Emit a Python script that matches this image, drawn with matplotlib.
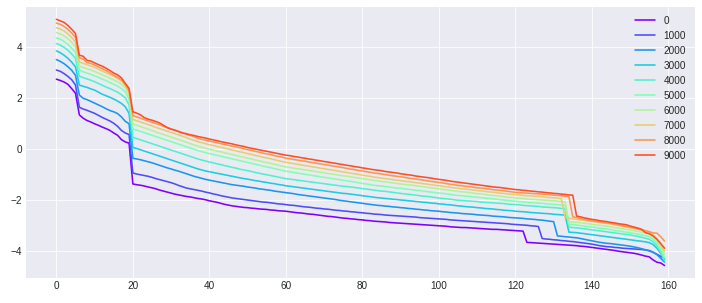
import numpy as np
import matplotlib
matplotlib.use("Agg")
import matplotlib.pyplot as plt

plt.style.use("seaborn-v0_8-darkgrid")
plt.rcParams["font.family"] = ["Liberation Sans", "DejaVu Sans"]

labels = ["0", "1000", "2000", "3000", "4000", "5000", "6000", "7000", "8000", "9000"]

s0 = [2.73, 2.68, 2.62, 2.53, 2.36, 2.18,
      1.33, 1.20, 1.11, 1.05, 0.98, 0.92, 0.85, 0.79, 0.72, 0.62, 0.53, 0.36, 0.27, 0.22,
      -1.38, -1.41, -1.43, -1.46, -1.50, -1.53, -1.57, -1.62, -1.66, -1.70,
      -1.74, -1.78, -1.81, -1.84, -1.87, -1.89, -1.92, -1.95, -1.97, -2.00,
      -2.04, -2.07, -2.10, -2.14, -2.18, -2.21, -2.24, -2.26, -2.28, -2.30,
      -2.31, -2.33, -2.34, -2.36, -2.37, -2.38, -2.40, -2.41, -2.43, -2.44,
      -2.45, -2.47, -2.49, -2.51, -2.52, -2.54, -2.56, -2.57, -2.59, -2.61,
      -2.63, -2.65, -2.66, -2.68, -2.70, -2.72, -2.73, -2.75, -2.76, -2.78,
      -2.79, -2.81, -2.82, -2.84, -2.85, -2.86, -2.87, -2.89, -2.90, -2.91,
      -2.92, -2.93, -2.94, -2.95, -2.96, -2.97, -2.98, -2.99, -3.00, -3.01,
      -3.02, -3.03, -3.04, -3.06, -3.07, -3.08, -3.09, -3.09, -3.10, -3.11,
      -3.12, -3.13, -3.14, -3.15, -3.16, -3.16, -3.17, -3.18, -3.19, -3.20,
      -3.21, -3.22, -3.23,
      -3.67, -3.68, -3.69, -3.70, -3.71, -3.72, -3.73, -3.74, -3.75, -3.76,
      -3.77, -3.78, -3.79, -3.80, -3.82, -3.83, -3.85, -3.87, -3.89, -3.91,
      -3.93, -3.95, -3.97, -3.99, -4.02, -4.04, -4.06, -4.08, -4.10, -4.13,
      -4.17, -4.21, -4.24, -4.36, -4.45, -4.48, -4.58]

s1 = [3.09, 3.04, 2.95, 2.84, 2.71, 2.50,
      1.63, 1.56, 1.51, 1.45, 1.39, 1.31, 1.23, 1.16, 1.09, 1.00, 0.88, 0.72, 0.62, 0.56,
      -0.95, -0.99, -1.02, -1.05, -1.08, -1.12, -1.17, -1.21, -1.25, -1.29,
      -1.33, -1.38, -1.44, -1.49, -1.54, -1.57, -1.60, -1.63, -1.66, -1.70,
      -1.73, -1.77, -1.80, -1.84, -1.87, -1.90, -1.93, -1.95, -1.97, -1.99,
      -2.01, -2.03, -2.05, -2.07, -2.09, -2.10, -2.12, -2.14, -2.16, -2.17,
      -2.19, -2.21, -2.22, -2.24, -2.26, -2.28, -2.29, -2.31, -2.33, -2.34,
      -2.36, -2.37, -2.39, -2.41, -2.42, -2.44, -2.45, -2.47, -2.48, -2.50,
      -2.51, -2.53, -2.54, -2.56, -2.57, -2.58, -2.60, -2.61, -2.62, -2.63,
      -2.64, -2.65, -2.66, -2.67, -2.68, -2.70, -2.71, -2.72, -2.73, -2.74,
      -2.75, -2.76, -2.77, -2.79, -2.80, -2.81, -2.82, -2.83, -2.84, -2.85,
      -2.86, -2.87, -2.88, -2.89, -2.90, -2.91, -2.92, -2.93, -2.94, -2.96,
      -2.97, -2.98, -2.99, -3.00, -3.02, -3.03, -3.05,
      -3.52, -3.54, -3.55, -3.57, -3.58, -3.60, -3.61, -3.63, -3.64, -3.66,
      -3.68, -3.70, -3.72, -3.74, -3.77, -3.80, -3.82, -3.84, -3.85, -3.87,
      -3.88, -3.90, -3.91, -3.92, -3.93, -3.94, -3.95, -3.97, -3.99, -4.06,
      -4.14, -4.22, -4.30]

s2 = [3.50, 3.43, 3.34, 3.22, 3.08, 2.88,
      2.11, 1.98, 1.93, 1.86, 1.79, 1.72, 1.65, 1.57, 1.50, 1.45, 1.38, 1.25, 1.08, 0.98,
      -0.37, -0.40, -0.43, -0.47, -0.51, -0.55, -0.60, -0.65, -0.70, -0.75,
      -0.79, -0.84, -0.88, -0.93, -0.98, -1.03, -1.08, -1.12, -1.16, -1.20,
      -1.23, -1.26, -1.29, -1.32, -1.35, -1.38, -1.41, -1.43, -1.45, -1.47,
      -1.50, -1.52, -1.54, -1.57, -1.59, -1.61, -1.63, -1.66, -1.68, -1.70,
      -1.72, -1.74, -1.76, -1.79, -1.81, -1.83, -1.85, -1.87, -1.89, -1.91,
      -1.93, -1.95, -1.97, -1.99, -2.02, -2.04, -2.06, -2.08, -2.10, -2.12,
      -2.14, -2.16, -2.18, -2.20, -2.22, -2.23, -2.25, -2.26, -2.28, -2.29,
      -2.31, -2.32, -2.34, -2.35, -2.37, -2.38, -2.40, -2.41, -2.43, -2.44,
      -2.45, -2.47, -2.48, -2.50, -2.51, -2.52, -2.54, -2.55, -2.56, -2.57,
      -2.59, -2.60, -2.61, -2.62, -2.64, -2.65, -2.66, -2.67, -2.69, -2.70,
      -2.71, -2.72, -2.73, -2.75, -2.76, -2.77, -2.79, -2.80, -2.82, -2.84,
      -2.86,
      -3.42, -3.43, -3.45, -3.46, -3.48, -3.49, -3.52, -3.55, -3.58, -3.61,
      -3.64, -3.67, -3.69, -3.71, -3.72, -3.74, -3.76, -3.78, -3.80, -3.82,
      -3.85, -3.88, -3.92, -3.96, -4.01, -4.06, -4.15, -4.30, -4.44]

s3 = [3.84, 3.77, 3.67, 3.55, 3.40, 3.21,
      2.50, 2.45, 2.41, 2.35, 2.30, 2.22, 2.14, 2.08, 2.02, 1.95, 1.87, 1.78, 1.65, 1.39,
      0.05, 0.01, -0.04, -0.09, -0.14, -0.19, -0.24, -0.29, -0.34, -0.39,
      -0.44, -0.49, -0.54, -0.59, -0.64, -0.69, -0.74, -0.79, -0.83, -0.87,
      -0.90, -0.93, -0.96, -0.99, -1.02, -1.05, -1.08, -1.11, -1.14, -1.17,
      -1.19, -1.22, -1.25, -1.27, -1.30, -1.32, -1.35, -1.37, -1.40, -1.42,
      -1.45, -1.47, -1.49, -1.51, -1.53, -1.55, -1.57, -1.59, -1.61, -1.63,
      -1.65, -1.67, -1.69, -1.71, -1.73, -1.75, -1.76, -1.78, -1.80, -1.82,
      -1.84, -1.86, -1.88, -1.90, -1.92, -1.93, -1.95, -1.96, -1.98, -1.99,
      -2.01, -2.02, -2.04, -2.05, -2.07, -2.08, -2.10, -2.11, -2.13, -2.14,
      -2.16, -2.17, -2.19, -2.20, -2.22, -2.24, -2.25, -2.27, -2.28, -2.29,
      -2.31, -2.32, -2.34, -2.35, -2.36, -2.38, -2.39, -2.41, -2.42, -2.43,
      -2.45, -2.46, -2.47, -2.48, -2.50, -2.51, -2.52, -2.53, -2.54, -2.55,
      -2.57, -2.58, -2.59, -2.60,
      -3.27, -3.28, -3.29, -3.31, -3.33, -3.35, -3.37, -3.39, -3.41, -3.43,
      -3.45, -3.47, -3.49, -3.51, -3.53, -3.55, -3.57, -3.59, -3.61, -3.63,
      -3.65, -3.68, -3.76, -3.90, -4.10, -4.34]

s4 = [4.13, 4.07, 3.98, 3.87, 3.72, 3.55,
      2.85, 2.79, 2.74, 2.69, 2.63, 2.56, 2.49, 2.42, 2.36, 2.29, 2.22, 2.12, 2.00, 1.72,
      0.45, 0.40, 0.35, 0.30, 0.25, 0.20, 0.15, 0.10, 0.05, 0.00,
      -0.05, -0.10, -0.15, -0.20, -0.25, -0.30, -0.35, -0.40, -0.44, -0.48,
      -0.52, -0.55, -0.59, -0.62, -0.66, -0.69, -0.73, -0.76, -0.80, -0.83,
      -0.86, -0.89, -0.93, -0.96, -0.99, -1.02, -1.05, -1.08, -1.11, -1.14,
      -1.17, -1.19, -1.21, -1.23, -1.25, -1.27, -1.29, -1.31, -1.33, -1.35,
      -1.37, -1.39, -1.41, -1.43, -1.45, -1.47, -1.48, -1.50, -1.52, -1.54,
      -1.56, -1.58, -1.60, -1.62, -1.64, -1.66, -1.67, -1.69, -1.71, -1.73,
      -1.75, -1.77, -1.78, -1.80, -1.82, -1.84, -1.86, -1.87, -1.89, -1.91,
      -1.93, -1.95, -1.96, -1.98, -2.00, -2.02, -2.03, -2.04, -2.05, -2.06,
      -2.07, -2.09, -2.10, -2.11, -2.12, -2.13, -2.14, -2.15, -2.17, -2.18,
      -2.19, -2.20, -2.22, -2.23, -2.24, -2.25, -2.26, -2.28, -2.29, -2.30,
      -2.31, -2.32, -2.34, -2.35,
      -3.08, -3.09, -3.10, -3.12, -3.14, -3.16, -3.18, -3.20, -3.22, -3.24,
      -3.26, -3.28, -3.30, -3.32, -3.34, -3.36, -3.38, -3.41, -3.44, -3.47,
      -3.51, -3.55, -3.65, -3.80, -4.05, -4.40]

s5 = [4.35, 4.30, 4.21, 4.10, 3.95, 3.78,
      3.09, 3.02, 2.97, 2.92, 2.86, 2.80, 2.73, 2.67, 2.60, 2.53, 2.46, 2.36, 2.24, 1.95,
      0.78, 0.73, 0.68, 0.63, 0.58, 0.53, 0.48, 0.43, 0.38, 0.33,
      0.28, 0.23, 0.18, 0.13, 0.08, 0.03, -0.02, -0.07, -0.11, -0.15,
      -0.19, -0.22, -0.26, -0.29, -0.33, -0.36, -0.40, -0.43, -0.47, -0.50,
      -0.54, -0.57, -0.61, -0.64, -0.68, -0.71, -0.74, -0.78, -0.81, -0.85,
      -0.88, -0.90, -0.93, -0.95, -0.98, -1.00, -1.02, -1.05, -1.07, -1.10,
      -1.12, -1.14, -1.17, -1.19, -1.21, -1.24, -1.26, -1.28, -1.31, -1.33,
      -1.36, -1.38, -1.40, -1.43, -1.45, -1.46, -1.48, -1.50, -1.52, -1.54,
      -1.55, -1.57, -1.59, -1.61, -1.63, -1.64, -1.66, -1.68, -1.70, -1.72,
      -1.74, -1.75, -1.77, -1.79, -1.81, -1.83, -1.84, -1.86, -1.87, -1.89,
      -1.90, -1.92, -1.93, -1.95, -1.96, -1.98, -2.00, -2.01, -2.03, -2.04,
      -2.06, -2.07, -2.08, -2.10, -2.11, -2.12, -2.13, -2.14, -2.16, -2.17,
      -2.18, -2.19, -2.21, -2.22,
      -2.96, -2.97, -2.99, -3.01, -3.03, -3.05, -3.07, -3.09, -3.11, -3.13,
      -3.15, -3.17, -3.20, -3.22, -3.25, -3.27, -3.29, -3.32, -3.35, -3.38,
      -3.41, -3.45, -3.55, -3.70, -3.95, -4.27]

s6 = [4.56, 4.51, 4.43, 4.32, 4.18, 3.99,
      3.25, 3.19, 3.14, 3.09, 3.03, 2.97, 2.90, 2.84, 2.77, 2.70, 2.63, 2.53, 2.40, 2.12,
      0.97, 0.92, 0.87, 0.82, 0.77, 0.72, 0.66, 0.61, 0.56, 0.51,
      0.46, 0.41, 0.36, 0.31, 0.26, 0.20, 0.15, 0.10, 0.06, 0.02,
      -0.02, -0.05, -0.09, -0.12, -0.16, -0.19, -0.23, -0.26, -0.30, -0.33,
      -0.37, -0.40, -0.44, -0.47, -0.51, -0.54, -0.57, -0.61, -0.64, -0.68,
      -0.71, -0.73, -0.76, -0.78, -0.80, -0.83, -0.85, -0.87, -0.90, -0.92,
      -0.94, -0.97, -0.99, -1.01, -1.04, -1.06, -1.08, -1.10, -1.13, -1.15,
      -1.17, -1.19, -1.22, -1.24, -1.26, -1.28, -1.30, -1.32, -1.34, -1.36,
      -1.38, -1.40, -1.41, -1.43, -1.45, -1.47, -1.49, -1.51, -1.53, -1.55,
      -1.57, -1.59, -1.61, -1.63, -1.65, -1.67, -1.69, -1.70, -1.72, -1.74,
      -1.76, -1.77, -1.79, -1.81, -1.83, -1.84, -1.86, -1.88, -1.90, -1.91,
      -1.93, -1.94, -1.95, -1.97, -1.98, -1.99, -2.00, -2.01, -2.02, -2.03,
      -2.04, -2.05, -2.07, -2.08,
      -2.86, -2.87, -2.88, -2.90, -2.92, -2.94, -2.96, -2.98, -3.00, -3.02,
      -3.04, -3.06, -3.09, -3.11, -3.14, -3.16, -3.18, -3.21, -3.24, -3.27,
      -3.31, -3.36, -3.46, -3.60, -3.85, -4.14]

s7 = [4.75, 4.70, 4.62, 4.51, 4.37, 4.18,
      3.41, 3.35, 3.30, 3.25, 3.19, 3.12, 3.05, 2.98, 2.91, 2.84, 2.76, 2.66, 2.50, 2.22,
      1.15, 1.10, 1.05, 1.00, 0.95, 0.90, 0.84, 0.79, 0.74, 0.69,
      0.64, 0.59, 0.54, 0.49, 0.44, 0.38, 0.33, 0.28, 0.24, 0.20,
      0.16, 0.13, 0.09, 0.06, 0.02, -0.01, -0.05, -0.08, -0.12, -0.15,
      -0.19, -0.22, -0.26, -0.29, -0.33, -0.36, -0.39, -0.43, -0.46, -0.50,
      -0.53, -0.56, -0.58, -0.61, -0.63, -0.66, -0.68, -0.71, -0.73, -0.76,
      -0.78, -0.81, -0.83, -0.86, -0.88, -0.91, -0.93, -0.96, -0.98, -1.01,
      -1.03, -1.06, -1.08, -1.11, -1.13, -1.15, -1.17, -1.19, -1.21, -1.23,
      -1.25, -1.27, -1.29, -1.31, -1.33, -1.35, -1.37, -1.39, -1.41, -1.43,
      -1.45, -1.47, -1.49, -1.51, -1.53, -1.55, -1.57, -1.58, -1.60, -1.62,
      -1.64, -1.65, -1.67, -1.69, -1.70, -1.72, -1.74, -1.75, -1.77, -1.79,
      -1.80, -1.81, -1.83, -1.84, -1.85, -1.86, -1.87, -1.88, -1.90, -1.91,
      -1.92, -1.94, -1.95,
      -2.70, -2.73, -2.75, -2.77, -2.79, -2.81, -2.83, -2.85, -2.87, -2.89,
      -2.91, -2.93, -2.95, -2.98, -3.01, -3.04, -3.07, -3.10, -3.13, -3.16,
      -3.19, -3.23, -3.27, -3.37, -3.52, -3.75, -4.01]

s8 = [4.93, 4.88, 4.80, 4.68, 4.54, 4.37,
      3.57, 3.52, 3.38, 3.35, 3.28, 3.21, 3.14, 3.07, 2.98, 2.88, 2.80, 2.70, 2.52, 2.30,
      1.30, 1.25, 1.20, 1.14, 1.09, 1.04, 0.99, 0.94, 0.88, 0.83,
      0.78, 0.73, 0.68, 0.62, 0.57, 0.52, 0.47, 0.41, 0.37, 0.34,
      0.30, 0.27, 0.24, 0.20, 0.17, 0.14, 0.10, 0.07, 0.04, 0.00,
      -0.03, -0.07, -0.10, -0.13, -0.17, -0.20, -0.23, -0.27, -0.30, -0.33,
      -0.37, -0.39, -0.42, -0.44, -0.47, -0.49, -0.52, -0.54, -0.57, -0.59,
      -0.62, -0.64, -0.67, -0.69, -0.72, -0.74, -0.77, -0.80, -0.82, -0.85,
      -0.87, -0.90, -0.92, -0.95, -0.97, -0.99, -1.01, -1.04, -1.06, -1.08,
      -1.10, -1.12, -1.15, -1.17, -1.19, -1.21, -1.23, -1.26, -1.28, -1.30,
      -1.32, -1.34, -1.37, -1.39, -1.41, -1.44, -1.45, -1.47, -1.49, -1.51,
      -1.53, -1.54, -1.56, -1.58, -1.60, -1.62, -1.63, -1.65, -1.67, -1.69,
      -1.71, -1.72, -1.73, -1.74, -1.75, -1.76, -1.77, -1.78, -1.79, -1.80,
      -1.82, -1.83, -1.84, -1.86, -1.88,
      -2.67, -2.70, -2.74, -2.77, -2.80, -2.83, -2.85, -2.87, -2.89, -2.91,
      -2.93, -2.96, -2.99, -3.02, -3.05, -3.08, -3.11, -3.14, -3.17, -3.21,
      -3.25, -3.30, -3.31, -3.45, -3.62]

s9 = [5.08, 5.02, 4.96, 4.84, 4.69, 4.52,
      3.67, 3.63, 3.47, 3.44, 3.37, 3.30, 3.24, 3.16, 3.07, 2.97, 2.90, 2.78, 2.57, 2.37,
      1.45, 1.40, 1.33, 1.22, 1.16, 1.12, 1.07, 1.01, 0.92, 0.83,
      0.77, 0.73, 0.67, 0.62, 0.59, 0.55, 0.52, 0.48, 0.45, 0.42,
      0.38, 0.35, 0.32, 0.28, 0.25, 0.22, 0.19, 0.15, 0.12, 0.09,
      0.05, 0.02, -0.01, -0.04, -0.07, -0.10, -0.13, -0.16, -0.19, -0.22,
      -0.25, -0.27, -0.30, -0.32, -0.35, -0.37, -0.40, -0.42, -0.45, -0.47,
      -0.50, -0.52, -0.55, -0.57, -0.60, -0.62, -0.65, -0.67, -0.70, -0.72,
      -0.75, -0.77, -0.80, -0.82, -0.84, -0.86, -0.89, -0.91, -0.93, -0.95,
      -0.98, -1.00, -1.02, -1.04, -1.07, -1.09, -1.11, -1.13, -1.15, -1.18,
      -1.20, -1.22, -1.24, -1.27, -1.29, -1.31, -1.33, -1.35, -1.37, -1.39,
      -1.41, -1.43, -1.45, -1.47, -1.49, -1.51, -1.52, -1.54, -1.56, -1.58,
      -1.60, -1.61, -1.63, -1.64, -1.66, -1.67, -1.69, -1.70, -1.72, -1.73,
      -1.75, -1.76, -1.78, -1.79, -1.81, -1.82,
      -2.64, -2.67, -2.71, -2.74, -2.77, -2.79, -2.82, -2.84, -2.86, -2.89,
      -2.91, -2.94, -2.96, -2.98, -3.03, -3.07, -3.11, -3.16, -3.29, -3.33,
      -3.42, -3.55, -3.72, -3.90]

series = [s0, s1, s2, s3, s4, s5, s6, s7, s8, s9]

fig, ax = plt.subplots(figsize=(702 / 72, 303 / 72), dpi=72)
fig.subplots_adjust(left=0.037, right=0.99, top=0.977, bottom=0.083)

cmap = plt.get_cmap("rainbow")
for i, (vals, lab) in enumerate(zip(series, labels)):
    ax.plot(np.arange(len(vals)), vals, color=cmap(i / 10), label=lab, linewidth=1.6)

ax.legend(loc="upper right", fontsize=10)
ax.tick_params(labelsize=10)

fig.savefig("out.png", dpi=72)
